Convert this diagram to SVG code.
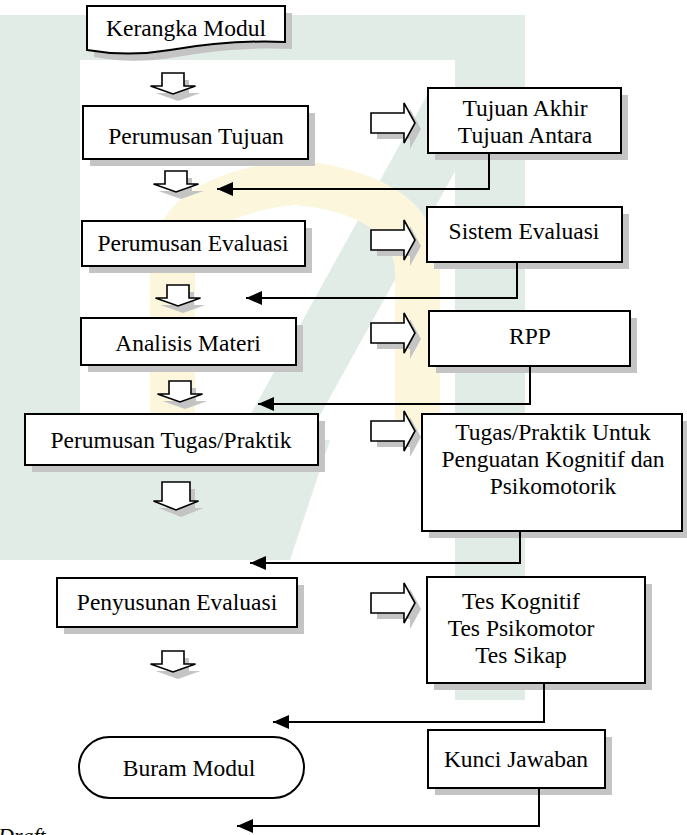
<svg xmlns="http://www.w3.org/2000/svg" width="687" height="835" viewBox="0 0 687 835" font-family="Liberation Serif">
<style>
.box{fill:#fff;stroke:#000;stroke-width:2}
.sh{fill:#c4c4c4;stroke:none}
.blk{fill:#fff;stroke:#000;stroke-width:1.6;stroke-linejoin:miter}
.t{font-size:23.5px;fill:#000;text-anchor:middle}
.ln{fill:none;stroke:#000;stroke-width:2}
.wg{fill:#e2ece7}
.wy{fill:#fcf6dc}
</style>
<defs>
<path id="da" d="M-11,0 H11 V13 H22.5 L0,21 L-22.5,13 H-11 Z"/>
<path id="dab" d="M-14,0 H14 V19 H22.5 L0,28 L-22.5,19 H-14 Z"/>
<path id="ra" d="M0,-10 H33 V-20 L44,0 L33,20 V10 H0 Z"/>
<marker id="ah" markerWidth="16" markerHeight="14" refX="16" refY="7" orient="auto" markerUnits="userSpaceOnUse">
<path d="M0,0 L16,7 L0,14 Z" fill="#000"/>
</marker>
</defs>
<g id="watermark">
<polygon class="wg" points="0,15 80,15 80,440 0,440"/>
<polygon class="wg" points="80,15 525,15 525,60 80,60"/>
<polygon class="wg" points="455,60 525,60 525,700 455,700"/>
<polygon class="wg" points="430,90 500,90 240,560 170,560"/>
<polygon class="wg" points="0,440 330,440 290,560 0,560"/>
<path class="wy" d="M150,430 V270 Q150,175 295,160 Q440,175 440,270 V430 H395 V275 Q395,215 295,205 Q195,215 195,275 V430 Z"/>
</g>
<g id="n-kerangka">
<path class="sh" transform="translate(7,7)" d="M87,6 H285 V42 C240,40 205,44 170,50 C135,56 110,54 87,50 Z"/>
<path class="box" d="M87,6 H285 V42 C240,40 205,44 170,50 C135,56 110,54 87,50 Z"/>
<text class="t" font-family="Liberation Serif" x="186" y="36">Kerangka Modul</text>
</g>
<g id="n-perumusan-tujuan">
<rect class="sh" x="90" y="113" width="225" height="53"/>
<rect class="box" x="83" y="106" width="225" height="53"/>
<text class="t" font-family="Liberation Serif" x="196" y="144">Perumusan Tujuan</text>
</g>
<g id="n-tujuan-akhir">
<rect class="sh" x="435" y="95" width="193" height="65"/>
<rect class="box" x="428" y="88" width="193" height="65"/>
<text class="t" font-family="Liberation Serif" x="525" y="116">Tujuan Akhir</text>
<text class="t" font-family="Liberation Serif" x="525" y="143">Tujuan Antara</text>
</g>
<g id="n-perumusan-evaluasi">
<rect class="sh" x="89" y="228" width="223" height="45"/>
<rect class="box" x="82" y="221" width="223" height="45"/>
<text class="t" font-family="Liberation Serif" x="193" y="251">Perumusan Evaluasi</text>
</g>
<g id="n-sistem-evaluasi">
<rect class="sh" x="434" y="214" width="195" height="55"/>
<rect class="box" x="427" y="207" width="195" height="55"/>
<text class="t" font-family="Liberation Serif" x="524" y="239">Sistem Evaluasi</text>
</g>
<g id="n-analisis-materi">
<rect class="sh" x="88" y="325" width="215" height="47"/>
<rect class="box" x="81" y="318" width="215" height="47"/>
<text class="t" font-family="Liberation Serif" x="188" y="351">Analisis Materi</text>
</g>
<g id="n-rpp">
<rect class="sh" x="436" y="318" width="201" height="55"/>
<rect class="box" x="429" y="311" width="201" height="55"/>
<text class="t" font-family="Liberation Serif" x="530" y="344">RPP</text>
</g>
<g id="n-perumusan-tugas">
<rect class="sh" x="32" y="421" width="293" height="51"/>
<rect class="box" x="25" y="414" width="293" height="51"/>
<text class="t" font-family="Liberation Serif" x="171" y="448">Perumusan Tugas/Praktik</text>
</g>
<g id="n-tugas-praktik">
<rect class="sh" x="429" y="421" width="260" height="117"/>
<rect class="box" x="422" y="414" width="260" height="117"/>
<text class="t" font-family="Liberation Serif" x="553" y="440">Tugas/Praktik Untuk</text>
<text class="t" font-family="Liberation Serif" x="553" y="467">Penguatan Kognitif dan</text>
<text class="t" font-family="Liberation Serif" x="553" y="494">Psikomotorik</text>
</g>
<g id="n-penyusunan-evaluasi">
<rect class="sh" x="64" y="585" width="240" height="49"/>
<rect class="box" x="57" y="578" width="240" height="49"/>
<text class="t" font-family="Liberation Serif" x="177" y="610">Penyusunan Evaluasi</text>
</g>
<g id="n-tes">
<rect class="sh" x="434" y="584" width="218" height="106"/>
<rect class="box" x="427" y="577" width="218" height="106"/>
<text class="t" font-family="Liberation Serif" x="521" y="609">Tes Kognitif</text>
<text class="t" font-family="Liberation Serif" x="521" y="636">Tes Psikomotor</text>
<text class="t" font-family="Liberation Serif" x="521" y="663">Tes Sikap</text>
</g>
<g id="n-buram-modul">
<rect class="box" x="79" y="737" width="225" height="61" rx="30.5"/>
<text class="t" font-family="Liberation Serif" x="189" y="776">Buram Modul</text>
</g>
<g id="n-kunci-jawaban">
<rect class="sh" x="435" y="737" width="177" height="58"/>
<rect class="box" x="428" y="730" width="177" height="58"/>
<text class="t" font-family="Liberation Serif" x="516" y="767">Kunci Jawaban</text>
</g>
<g id="connectors">
<use href="#da" class="sh" x="178" y="80"/>
<use href="#da" class="blk" x="173" y="73"/>
<use href="#da" class="sh" x="181" y="178"/>
<use href="#da" class="blk" x="176" y="171"/>
<use href="#da" class="sh" x="183" y="292"/>
<use href="#da" class="blk" x="178" y="285"/>
<use href="#da" class="sh" x="185" y="388"/>
<use href="#da" class="blk" x="180" y="381"/>
<use href="#dab" class="sh" x="181" y="489"/>
<use href="#dab" class="blk" x="176" y="482"/>
<use href="#da" class="sh" x="178" y="658"/>
<use href="#da" class="blk" x="173" y="651"/>
<use href="#ra" class="sh" x="377" y="129"/>
<use href="#ra" class="blk" x="371" y="123"/>
<use href="#ra" class="sh" x="377" y="246"/>
<use href="#ra" class="blk" x="371" y="240"/>
<use href="#ra" class="sh" x="377" y="339"/>
<use href="#ra" class="blk" x="371" y="333"/>
<use href="#ra" class="sh" x="377" y="437"/>
<use href="#ra" class="blk" x="371" y="431"/>
<use href="#ra" class="sh" x="377" y="609"/>
<use href="#ra" class="blk" x="371" y="603"/>
<path class="ln" marker-end="url(#ah)" d="M489,153 V189 H217"/>
<path class="ln" marker-end="url(#ah)" d="M517,262 V298 H246"/>
<path class="ln" marker-end="url(#ah)" d="M530,366 V404 H258"/>
<path class="ln" marker-end="url(#ah)" d="M520,531 V563 H250"/>
<path class="ln" marker-end="url(#ah)" d="M544,683 V722 H273"/>
<path class="ln" marker-end="url(#ah)" d="M539,788 V826 H237"/>
</g>
<text x="-2" y="843" font-family="Liberation Serif" font-size="22" font-style="italic">Draft</text>
</svg>
